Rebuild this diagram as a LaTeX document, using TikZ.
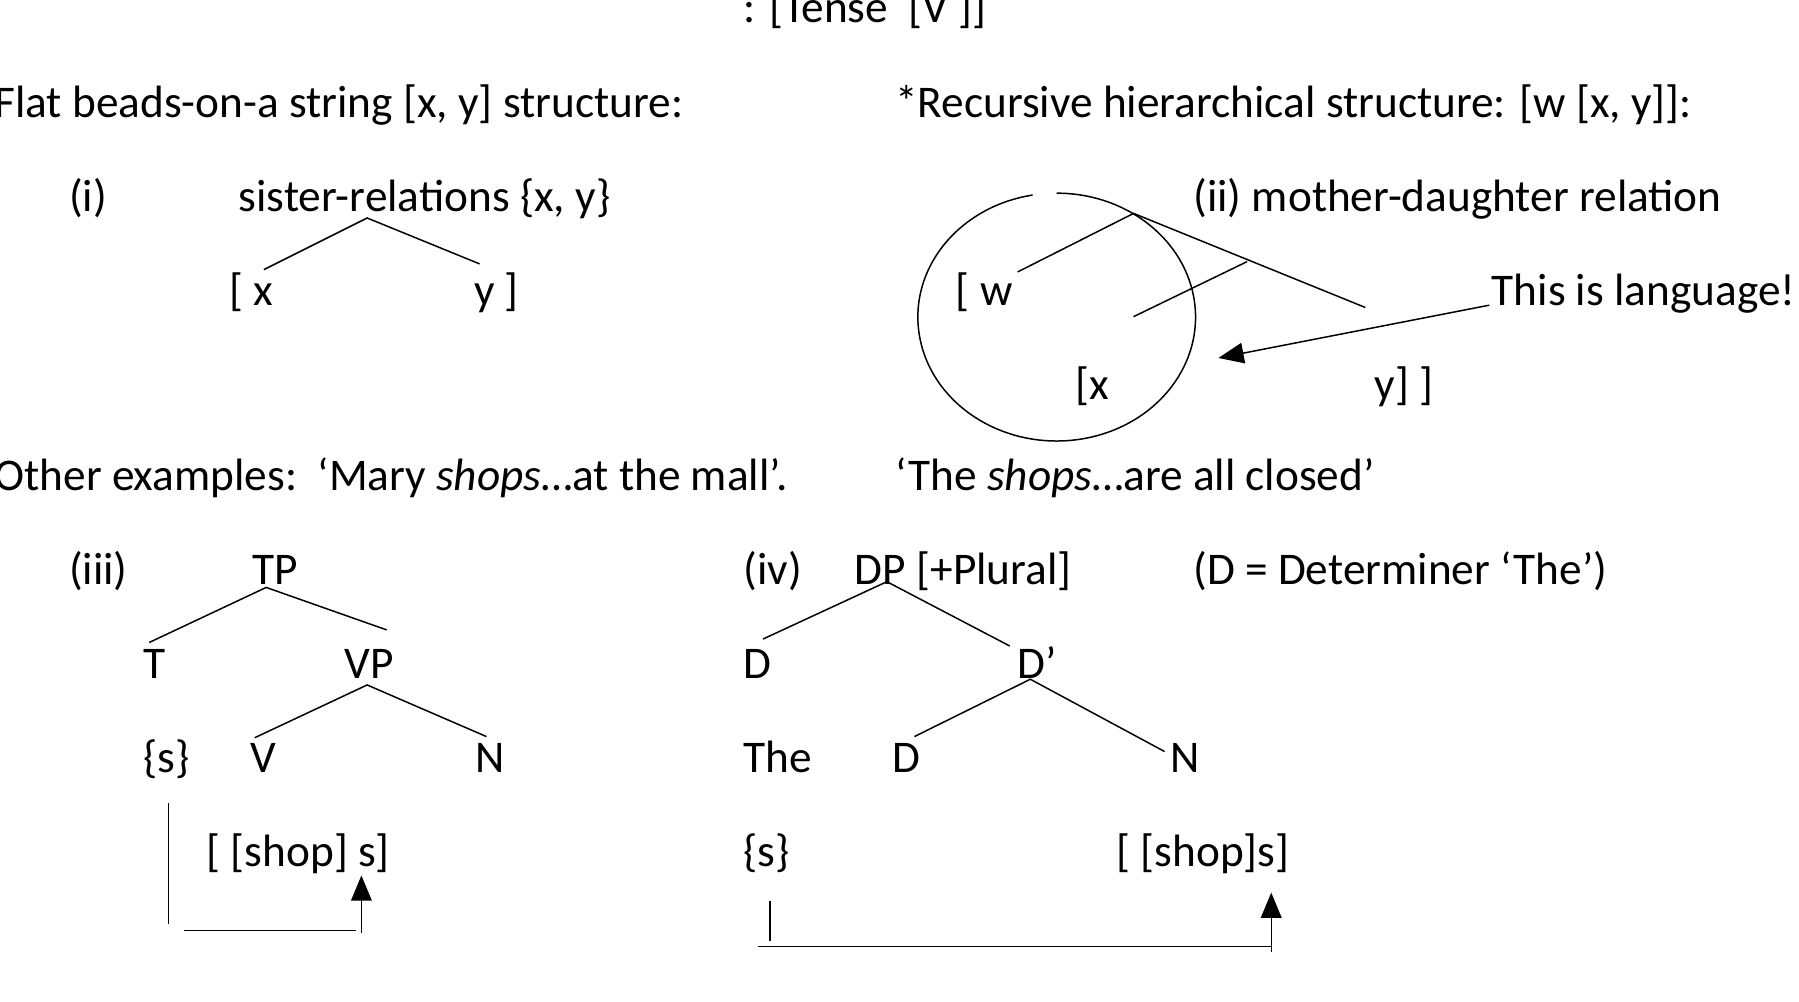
\documentclass[tikz,border=0pt]{standalone}
\usepackage{fontspec}
\setmainfont{Carlito}
\usetikzlibrary{arrows.meta}
\begin{document}
\begin{tikzpicture}[x=1pt,y=-1pt,
  lbl/.style={anchor=base west,inner sep=0pt,yshift=-2.5pt,font=\fontsize{39.5}{46}\selectfont},
  ln/.style={line width=1.3pt},
  arr/.style={line width=1.3pt,-{Triangle[length=22pt,width=18pt]}}]
\useasboundingbox (0,0) rectangle (1568,873);
\node[lbl] (top) at (648,17) {: [Tense\ \ [V ]]};
\node[lbl] (flat) at (-5,100) {Flat beads-on-a string [x, y] structure:};
\node[lbl] (rec) at (780,100) {*Recursive hierarchical structure: [w [x, y]]:};
\node[lbl] (i) at (60,182) {(i)};
\node[lbl] (sis) at (208,182) {sister-relations \{x, y\}};
\node[lbl] (x1) at (200,264) {[ x};
\node[lbl] (y1) at (413,264) {y ]};
\coordinate (m1) at (320,190); \coordinate (a1) at (230,235); \coordinate (b1) at (418,230);
\draw[ln] (a1) -- (m1) -- (b1);
% (ii)
\node[lbl] (ii) at (1040,182) {(ii) mother-daughter relation};
\node[lbl] (w2) at (833,264) {[ w};
\node[lbl] (x2) at (937,346) {[x};
\node[lbl] (y2) at (1198,346) {y] ]};
\coordinate (cs) at (900,170);
\draw[ln] (cs) arc[start angle=260,end angle=-90,x radius=121,y radius=108];
\coordinate (m2) at (988,186); \coordinate (a2) at (887,237); \coordinate (b2) at (1190,268);
\coordinate (m3) at (1087,228); \coordinate (a3) at (988,276);
\draw[ln] (a2) -- (m2) -- (b2);
\draw[ln] (m3) -- (a3);
\node[lbl] (lang) at (1300,264) {This is language!};
\coordinate (la) at (1298,266); \coordinate (lt) at (1062,312);
\draw[arr] (la) -- (lt);
% examples
\node[lbl] (oth) at (-5,425) {Other examples:\ \ ‘Mary \textit{shops}…at the mall’.};
\node[lbl] (the) at (780,425) {‘The \textit{shops}…are all closed’};
% (iii)
\node[lbl] (iii) at (60,507) {(iii)};
\node[lbl] (TP) at (220,507) {TP};
\node[lbl] (T) at (125,589) {T};
\node[lbl] (VP) at (300,589) {VP};
\node[lbl] (s3) at (125,671) {\{s\}};
\node[lbl] (V) at (218,671) {V};
\node[lbl] (N3) at (414,671) {N};
\node[lbl] (shop3) at (180,753) {[ [shop] s]};
\coordinate (t1) at (232,512); \coordinate (t2) at (130,560); \coordinate (t3) at (337,549);
\draw[ln] (t2) -- (t1) -- (t3);
\coordinate (v1) at (320,597); \coordinate (v2) at (222,643); \coordinate (v3) at (424,642);
\draw[ln] (v2) -- (v1) -- (v3);
\coordinate (p1) at (147,700); \coordinate (p2) at (147,805);
\coordinate (p3) at (160,811); \coordinate (p4) at (310,811);
\coordinate (p5) at (315,813); \coordinate (p6) at (315,763);
\draw[ln] (p1) -- (p2); \draw[ln] (p3) -- (p4); \draw[arr] (p5) -- (p6);
% (iv)
\node[lbl] (iv) at (648,507) {(iv)};
\node[lbl] (DP) at (745,507) {DP [+Plural]};
\node[lbl] (Ddef) at (1040,507) {(D = Determiner ‘The’)};
\node[lbl] (D1) at (648,589) {D};
\node[lbl] (Dbar) at (887,589) {D’};
\node[lbl] (The) at (648,671) {The};
\node[lbl] (D2) at (778,671) {D};
\node[lbl] (N4) at (1020,671) {N};
\node[lbl] (s4) at (648,753) {\{s\}};
\node[lbl] (shop4) at (973,753) {[ [shop]s]};
\coordinate (d1) at (773,507); \coordinate (d2) at (665,557); \coordinate (d3) at (880,563);
\draw[ln] (d2) -- (d1) -- (d3);
\coordinate (e1) at (898,592); \coordinate (e2) at (797,642); \coordinate (e3) at (1015,655);
\draw[ln] (e2) -- (e1) -- (e3);
\coordinate (q1) at (671,785); \coordinate (q2) at (671,820);
\coordinate (q3) at (661,825); \coordinate (q4) at (1108,825);
\coordinate (q5) at (1108,830); \coordinate (q6) at (1108,778);
\draw[ln] (q1) -- (q2); \draw[ln] (q3) -- (q4); \draw[arr] (q5) -- (q6);
\end{tikzpicture}
\end{document}
